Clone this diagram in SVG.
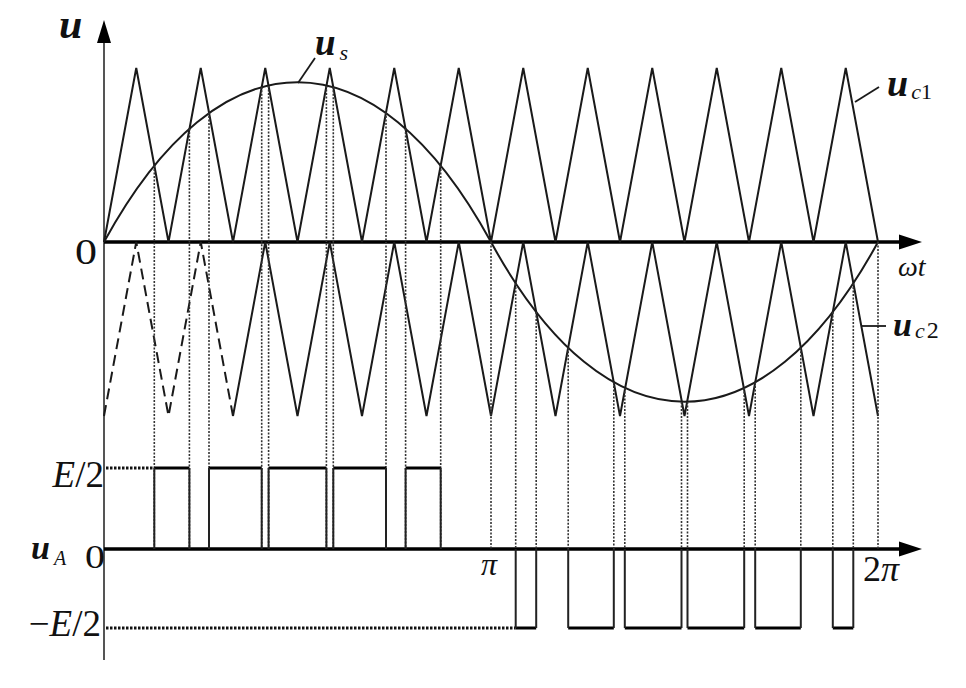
<svg xmlns="http://www.w3.org/2000/svg" width="966" height="688" viewBox="0 0 966 688">
<style>
.ax{stroke:#000;stroke-width:3.5;fill:none}
.yax{stroke:#555;stroke-width:2;fill:none}
.wave{stroke:#1a1a1a;stroke-width:2;fill:none;stroke-linejoin:miter}
.dash{stroke:#1a1a1a;stroke-width:2;fill:none;stroke-dasharray:11 6}
.dot{stroke:#333;stroke-width:1.6;fill:none;stroke-dasharray:2 1.5}
.hdot{stroke:#111;stroke-width:3;fill:none;stroke-dasharray:2.5 1.5}
.lvl{stroke:#000;stroke-width:3.2;fill:none}
.edge{stroke:#222;stroke-width:2;fill:none}
.lead{stroke:#1a1a1a;stroke-width:1.8;fill:none}
text{font-family:"Liberation Serif","Times New Roman",serif;fill:#111}
.bi{font-style:italic;font-weight:bold}
.it{font-style:italic}
</style>
<g id="axes">
<line class="yax" x1="104" y1="38" x2="104" y2="660"/>
<polygon points="104,20 97,43 111,43" fill="#000"/>
<line class="ax" x1="104" y1="242" x2="902" y2="242"/>
<polygon points="922,242 899,234.5 899,249.5" fill="#000"/>
<line class="ax" x1="104" y1="549" x2="902" y2="549"/>
<polygon points="922,549 899,541.5 899,556.5" fill="#000"/>
</g>
<g id="carrier1">
<polyline class="wave" points="104,242 136.25,68 168.5,242 200.75,68 233,242 265.25,68 297.5,242 329.75,68 362,242 394.25,68 426.5,242 458.75,68 491,242 523.25,68 555.5,242 587.75,68 620,242 652.25,68 684.5,242 716.75,68 749,242 781.25,68 813.5,242 845.75,68 878,242"/>
</g>
<g id="carrier2">
<polyline class="dash" points="104,416 136.25,242 168.5,416 200.75,242 233,416"/>
<polyline class="wave" points="233,416 265.25,242 297.5,416 329.75,242 362,416 394.25,242 426.5,416 458.75,242 491,416 523.25,242 555.5,416 587.75,242 620,416 652.25,242 684.5,416 716.75,242 749,416 781.25,242 813.5,416 845.75,242 878,416"/>
</g>
<g id="sine">
<path class="wave" d="M104,242 C220,29 375,29 491,242 C607,455 762,455 878,242"/>
</g>
<g id="connectors">
<g id="dotted-verticals">
<line class="dot" x1="154.3" y1="165.5" x2="154.3" y2="549"/>
<line class="dot" x1="189.4" y1="128.6" x2="189.4" y2="549"/>
<line class="dot" x1="209" y1="112.5" x2="209" y2="549"/>
<line class="dot" x1="261.7" y1="86.8" x2="261.7" y2="549"/>
<line class="dot" x1="268.6" y1="86" x2="268.6" y2="549"/>
<line class="dot" x1="326.4" y1="86" x2="326.4" y2="549"/>
<line class="dot" x1="333.3" y1="86.8" x2="333.3" y2="549"/>
<line class="dot" x1="386" y1="112.5" x2="386" y2="549"/>
<line class="dot" x1="405.6" y1="128.6" x2="405.6" y2="549"/>
<line class="dot" x1="440.7" y1="165.5" x2="440.7" y2="549"/>
<line class="dot" x1="491" y1="242" x2="491" y2="549"/>
<line class="dot" x1="515.7" y1="283.5" x2="515.7" y2="549"/>
<line class="dot" x1="536.2" y1="312" x2="536.2" y2="549"/>
<line class="dot" x1="568.2" y1="347.8" x2="568.2" y2="549"/>
<line class="dot" x1="613.8" y1="382.4" x2="613.8" y2="549"/>
<line class="dot" x1="624.8" y1="388" x2="624.8" y2="549"/>
<line class="dot" x1="681.5" y1="401.9" x2="681.5" y2="549"/>
<line class="dot" x1="687.5" y1="401.9" x2="687.5" y2="549"/>
<line class="dot" x1="744.2" y1="388" x2="744.2" y2="549"/>
<line class="dot" x1="755.2" y1="382.4" x2="755.2" y2="549"/>
<line class="dot" x1="800.8" y1="347.8" x2="800.8" y2="549"/>
<line class="dot" x1="832.8" y1="312" x2="832.8" y2="549"/>
<line class="dot" x1="853.3" y1="283.5" x2="853.3" y2="549"/>
<line class="dot" x1="878" y1="242" x2="878" y2="549"/>
</g>
<line class="hdot" x1="106" y1="468" x2="154.3" y2="468"/>
<line class="hdot" x1="106" y1="628" x2="515.7" y2="628"/>
<line class="lead" x1="315" y1="58" x2="298" y2="83"/>
<line class="lead" x1="855" y1="102" x2="879" y2="87"/>
<line class="lead" x1="862" y1="326" x2="886" y2="326"/>
</g>
<g id="pwm">
<path class="lvl" d="M154.3,468H189.4M209,468H261.7M268.6,468H326.4M333.3,468H386M405.6,468H440.7"/>
<path class="edge" d="M154.3,468V549M189.4,468V549M209,468V549M261.7,468V549M268.6,468V549M326.4,468V549M333.3,468V549M386,468V549M405.6,468V549M440.7,468V549"/>
<path class="lvl" d="M515.7,628H536.2M568.2,628H613.8M624.8,628H681.5M687.5,628H744.2M755.2,628H800.8M832.8,628H853.3"/>
<path class="edge" d="M515.7,549V628M536.2,549V628M568.2,549V628M613.8,549V628M624.8,549V628M681.5,549V628M687.5,549V628M744.2,549V628M755.2,549V628M800.8,549V628M832.8,549V628M853.3,549V628"/>
</g>
<g id="labels">
<text x="59" y="38" class="bi" font-size="42">u</text>
<text x="75" y="264" font-size="35" textLength="22" lengthAdjust="spacingAndGlyphs">0</text>
<text x="315" y="55"><tspan class="bi" font-size="37">u</tspan><tspan class="it" font-size="22" dx="4" dy="5">s</tspan></text>
<text x="887" y="96"><tspan class="bi" font-size="38">u</tspan><tspan class="it" font-size="22" dx="3" dy="3">c</tspan><tspan font-size="22">1</tspan></text>
<text x="898" y="276" class="it" font-size="28">ωt</text>
<text x="893" y="336"><tspan class="bi" font-size="34">u</tspan><tspan class="it" font-size="22" dx="3" dy="2">c</tspan><tspan font-size="24" dx="2">2</tspan></text>
<text x="104" y="487" font-size="37" text-anchor="end"><tspan class="it">E</tspan>/2</text>
<text x="31" y="559"><tspan class="bi" font-size="34">u</tspan><tspan class="it" font-size="20" dx="4" dy="6">A</tspan></text>
<text x="85" y="568" font-size="33" textLength="20" lengthAdjust="spacingAndGlyphs">0</text>
<text x="101" y="636" font-size="37" text-anchor="end">−<tspan class="it">E</tspan>/2</text>
<text x="489" y="575" class="it" font-size="32" text-anchor="middle">π</text>
<text x="863" y="581" font-size="36">2<tspan class="it">π</tspan></text>
</g>
</svg>
